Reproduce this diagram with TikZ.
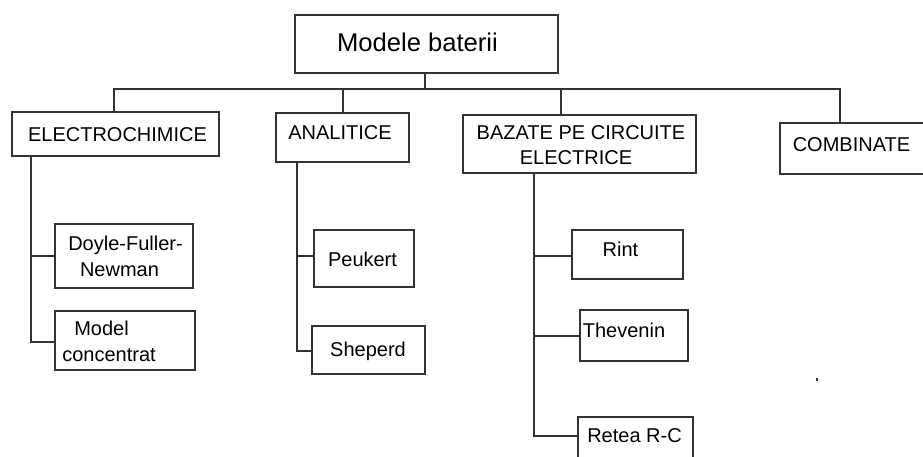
\documentclass[tikz,border=0pt]{standalone}
\usepackage{fontspec}
\setmainfont{Liberation Sans}
\begin{document}
\begin{tikzpicture}[x=1pt,y=-1pt,
  box/.style={draw=linec,line width=2pt,inner sep=0pt,outer sep=0pt},
  txt/.style={inner sep=0pt,anchor=base,font=\fontsize{20}{24}\selectfont,text=black},
  conn/.style={draw=linec,line width=2pt}]
\definecolor{linec}{HTML}{333333}
\clip (0,0) rectangle (923,457);
\fill[white] (0,0) rectangle (923,457);
% boxes
\node[box,minimum width=263pt,minimum height=58pt] (top) at (426.5,44) {};
\node[box,minimum width=207pt,minimum height=44pt] (electro) at (115.5,134) {};
\node[box,minimum width=133pt,minimum height=49pt] (anal) at (342.5,137.5) {};
\node[box,minimum width=233pt,minimum height=58pt] (bazate) at (579.5,144) {};
\node[box,minimum width=155pt,minimum height=51pt] (combin) at (857.5,148.5) {};
\node[box,minimum width=138pt,minimum height=64pt] (doyle) at (124,256) {};
\node[box,minimum width=140pt,minimum height=59pt] (model) at (125,340.5) {};
\node[box,minimum width=100pt,minimum height=57pt] (peukert) at (364,258.5) {};
\node[box,minimum width=113pt,minimum height=48pt] (sheperd) at (368.5,350) {};
\node[box,minimum width=111pt,minimum height=49pt] (rint) at (627.5,254.5) {};
\node[box,minimum width=108pt,minimum height=51pt] (thev) at (634,335.5) {};
\node[box,minimum width=115pt,minimum height=53pt] (retea) at (635.5,443.5) {};
% texts
\node[txt,font=\fontsize{25.6}{30}\selectfont] (topT) at (417.5,52) {Modele baterii};
\node[txt] (electroT) at (117.5,141.5) {ELECTROCHIMICE};
\node[txt] (analT) at (340,140) {ANALITICE};
\node[txt] (bazateT1) at (581,139.3) {BAZATE PE CIRCUITE};
\node[txt] (bazateT2) at (576,165) {ELECTRICE};
\node[txt] (combinT) at (851.5,151.7) {COMBINATE};
\node[txt] (doyleT1) at (125.5,250.7) {Doyle-Fuller-};
\node[txt] (doyleT2) at (119.5,276) {Newman};
\node[txt] (modelT1) at (101.5,335.7) {Model};
\node[txt] (modelT2) at (109,361) {concentrat};
\node[txt] (peukertT) at (362.5,266.7) {Peukert};
\node[txt] (sheperdT) at (368,356) {Sheperd};
\node[txt] (rintT) at (620.5,256.7) {Rint};
\node[txt] (thevT) at (624,337.7) {Thevenin};
\node[txt] (reteaT) at (634.5,442.7) {Retea R-C};
% bus
\coordinate (busL) at (114,89);
\coordinate (busR) at (840,89);
\coordinate (bA) at (343,89);
\coordinate (bB) at (561,89);
\coordinate (tS) at ([xshift=-1.5pt]top.south);
\draw[conn] (tS) -- (tS |- busL);
\draw[conn,line cap=rect] (busL) -- (busR);
\draw[conn] (busL) -- (busL |- electro.north);
\draw[conn] (bA) -- (bA |- anal.north);
\draw[conn] (bB) -- (bB |- bazate.north);
\draw[conn] (busR) -- (busR |- combin.north);
% electrochimice branch
\coordinate (eT) at ([xshift=19pt]electro.south west);
\draw[conn] (eT) |- ([yshift=-1.5pt]model.west);
\draw[conn] (eT |- doyle.west) -- (doyle.west);
% analitice branch
\coordinate (aT) at ([xshift=21pt]anal.south west);
\draw[conn] (aT) |- ([yshift=-1pt]sheperd.west);
\coordinate (pW) at ([yshift=2.5pt]peukert.west);
\draw[conn] (pW -| aT) -- (pW);
% bazate branch
\coordinate (zT) at ([xshift=71pt]bazate.south west);
\draw[conn] (zT) |- ([yshift=7.5pt]retea.west);
\coordinate (rW) at ([yshift=-1.5pt]rint.west);
\draw[conn] (rW -| zT) -- (rW);
\coordinate (tW) at ([yshift=-0.5pt]thev.west);
\draw[conn] (tW -| zT) -- (tW);
% stray dot
\fill[linec] (816,378) rectangle (818,381);
\end{tikzpicture}
\end{document}
